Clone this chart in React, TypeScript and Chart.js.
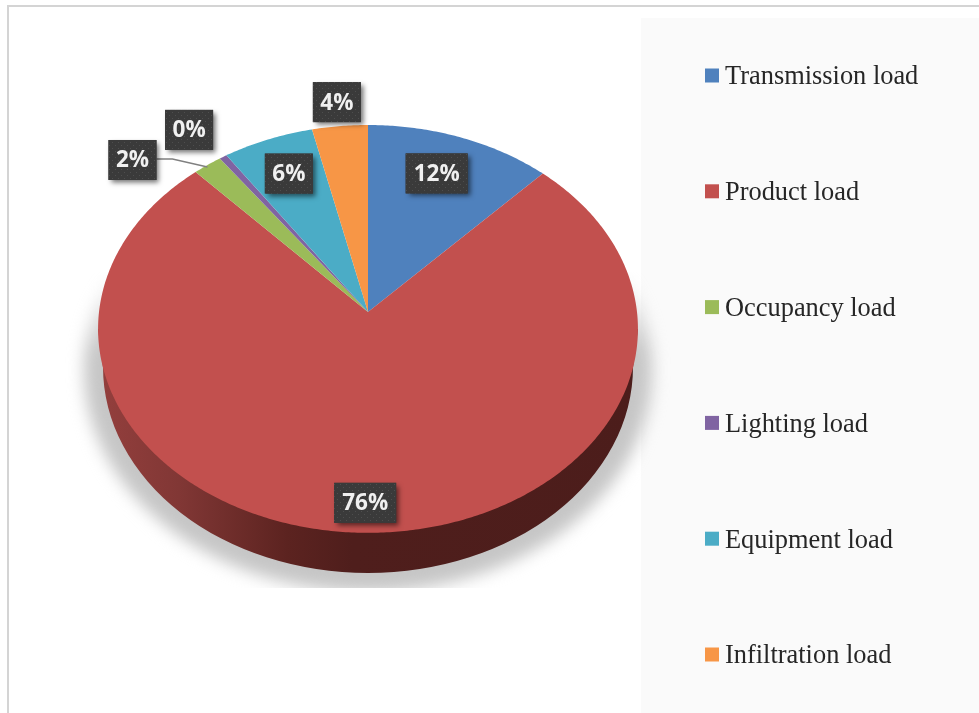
import React, { useEffect, useRef } from "react";
import { Chart, registerables, ArcElement, PieController } from "chart.js";

// Cooling load shares, percent of the total.
const categories = [
  "Transmission load",
  "Product load",
  "Occupancy load",
  "Lighting load",
  "Equipment load",
  "Infiltration load",
];
const loadShares = [12.1, 76.0, 1.9, 0.49, 5.9, 3.61];
const sliceColors = ["#4f81bd", "#c2504e", "#9bbb59", "#8064a2", "#4bacc6", "#f79646"];

// Tilted-disc projection, as ratios of the arc's outer radius.
const tilt = { rx: 269 / 270, ry: 202.5 / 270, k: 0.083 };

// Callout box centres, offset from the middle of each slice's rim.
const calloutOffsets = [
  [-24, 36],
  [-1, -30],
  [-75, -5],
  [-34, -27],
  [21, 34],
  [-3, -24],
];

function project(x: number, y: number, r: number, theta: number, scale = 1) {
  const c = Math.cos(theta);
  const w = 1 + tilt.k * c;
  return {
    x: x + (r * scale * tilt.rx * Math.sin(theta)) / w,
    y: y - (r * scale * tilt.ry * c) / w,
  };
}

class PerspectiveArc extends ArcElement {
  static id = "perspectiveArc";
  draw(ctx: CanvasRenderingContext2D) {
    const { x, y, startAngle, endAngle, outerRadius } = (this as any).getProps([
      "x",
      "y",
      "startAngle",
      "endAngle",
      "outerRadius",
    ]);
    const from = startAngle + Math.PI / 2;
    const to = endAngle + Math.PI / 2;
    const steps = Math.max(2, Math.ceil((to - from) / 0.01));
    ctx.save();
    ctx.beginPath();
    ctx.moveTo(x, y);
    for (let i = 0; i <= steps; i++) {
      const p = project(x, y, outerRadius, from + ((to - from) * i) / steps);
      ctx.lineTo(p.x, p.y);
    }
    ctx.closePath();
    ctx.fillStyle = (this as any).options.backgroundColor;
    ctx.fill();
    ctx.restore();
  }
}

class PerspectivePie extends PieController {
  static id = "perspectivePie";
  static defaults = { dataElementType: "perspectiveArc" };
}

Chart.register(...registerables, PerspectiveArc, PerspectivePie);

// Soft floor shadow and the dark extruded rim under the disc.
const discBase = {
  id: "discBase",
  beforeDatasetsDraw(chart: any) {
    const { ctx } = chart;
    const first = chart.getDatasetMeta(0).data[0];
    const { x, y, outerRadius: r } = first;
    const u = r / 270;

    ctx.save();
    ctx.beginPath();
    ctx.rect(0, y - 40 * u, chart.width, 316 * u);
    ctx.clip();
    const fade = ctx.createLinearGradient(0, y - 40 * u, 0, y + 40 * u);
    fade.addColorStop(0, "rgba(198,198,198,0)");
    fade.addColorStop(1, "rgba(198,198,198,1)");
    ctx.filter = "blur(8px)";
    ctx.fillStyle = fade;
    ctx.beginPath();
    ctx.ellipse(x, y + 58 * u, 284 * u, 222 * u, 0, 0, Math.PI * 2);
    ctx.fill();
    ctx.restore();

    const side = ctx.createLinearGradient(x - 270 * u, 0, x + 270 * u, 0);
    side.addColorStop(0, "#943f3d");
    side.addColorStop(0.15, "#813735");
    side.addColorStop(0.35, "#5c2320");
    side.addColorStop(0.47, "#4f1e1c");
    side.addColorStop(1, "#4c1d1b");
    ctx.save();
    ctx.fillStyle = side;
    ctx.beginPath();
    ctx.moveTo(x - 270 * u, y + 17 * u);
    ctx.lineTo(x - 265 * u, y + 55 * u);
    ctx.ellipse(x, y + 55 * u, 265 * u, 206 * u, 0, Math.PI, 0, true);
    ctx.lineTo(x + 270 * u, y + 17 * u);
    ctx.closePath();
    ctx.fill();
    ctx.restore();
  },
};

function dottedPattern(ctx: CanvasRenderingContext2D) {
  const tile = document.createElement("canvas");
  tile.width = 6;
  tile.height = 6;
  const t = tile.getContext("2d")!;
  t.fillStyle = "#3a3a3a";
  t.fillRect(0, 0, 6, 6);
  t.fillStyle = "#4e4e4e";
  t.fillRect(1, 1, 1, 1);
  t.fillRect(4, 4, 1, 1);
  return ctx.createPattern(tile, "repeat")!;
}

// Dark callout boxes with the rounded share of each slice.
const sliceCallouts = {
  id: "sliceCallouts",
  afterDatasetsDraw(chart: any) {
    const { ctx } = chart;
    const meta = chart.getDatasetMeta(0);
    const values = chart.data.datasets[0].data;
    const pattern = dottedPattern(ctx);

    const centres = meta.data.map((arc: any, i: number) => {
      const mid = (arc.startAngle + arc.endAngle) / 2 + Math.PI / 2;
      const rim = project(arc.x, arc.y, arc.outerRadius, mid);
      return { x: rim.x + calloutOffsets[i][0], y: rim.y + calloutOffsets[i][1], rim };
    });

    // Leader line from the occupancy box to its slice.
    const small = centres[2];
    ctx.save();
    ctx.strokeStyle = "#808080";
    ctx.lineWidth = 1.4;
    ctx.beginPath();
    ctx.moveTo(small.x + 24, small.y - 1);
    ctx.lineTo(small.x + 40, small.y - 1);
    ctx.lineTo(small.rim.x, small.rim.y + 2);
    ctx.stroke();
    ctx.restore();

    centres.forEach((c: any, i: number) => {
      const text = `${Math.round(values[i])}%`;
      const w = text.length > 2 ? 62 : 48;
      const h = 40;
      ctx.save();
      ctx.shadowColor = "rgba(0,0,0,0.55)";
      ctx.shadowBlur = 5;
      ctx.shadowOffsetX = 3;
      ctx.shadowOffsetY = 3;
      ctx.fillStyle = "#3a3a3a";
      ctx.fillRect(c.x - w / 2, c.y - h / 2, w, h);
      ctx.shadowColor = "transparent";
      ctx.fillStyle = pattern;
      ctx.fillRect(c.x - w / 2, c.y - h / 2, w, h);
      ctx.fillStyle = "#f0f0f0";
      ctx.font = 'bold 22.5px "Open Sans"';
      ctx.textAlign = "center";
      ctx.textBaseline = "middle";
      ctx.fillText(text, c.x, c.y + 1);
      ctx.restore();
    });
  },
};

// Widely spaced legend column in the side panel.
const sideLegend = {
  id: "sideLegend",
  afterDraw(chart: any) {
    const { ctx } = chart;
    const colors = chart.data.datasets[0].backgroundColor;
    ctx.save();
    chart.data.labels.forEach((label: string, i: number) => {
      const cy = 75.5 + i * 115.8;
      ctx.fillStyle = colors[i];
      ctx.fillRect(705, cy - 7, 14, 14);
      ctx.fillStyle = "#262626";
      ctx.font = '26.4px "Liberation Serif"';
      ctx.textAlign = "left";
      ctx.textBaseline = "middle";
      ctx.fillText(label, 725, cy + 2);
    });
    ctx.restore();
  },
};

export default function App() {
  const ref = useRef<HTMLCanvasElement>(null);

  useEffect(() => {
    const chart = new Chart(ref.current!, {
      type: "perspectivePie" as any,
      data: {
        labels: categories,
        datasets: [{ data: loadShares, backgroundColor: sliceColors, borderWidth: 0 }],
      },
      options: {
        animation: false,
        responsive: false,
        events: [],
        layout: { padding: { left: 98, right: 341, top: 42, bottom: 131 } },
        plugins: { legend: { display: false }, tooltip: { enabled: false } },
      },
      plugins: [discBase, sliceCallouts, sideLegend],
    });
    return () => chart.destroy();
  }, []);

  return (
    <div style={{ position: "fixed", left: 0, top: 0, width: 979, height: 713, overflow: "hidden", background: "#fff" }}>
      <div style={{ position: "absolute", left: 7, top: 5, right: -4, bottom: -4, borderTop: "2px solid #d4d4d4", borderLeft: "2px solid #d4d4d4" }} />
      <div style={{ position: "absolute", left: 641, top: 18, right: 0, bottom: 0, background: "#fafafa" }} />
      <canvas ref={ref} width={979} height={713} style={{ position: "absolute", left: 0, top: 0, display: "block" }} />
    </div>
  );
}
